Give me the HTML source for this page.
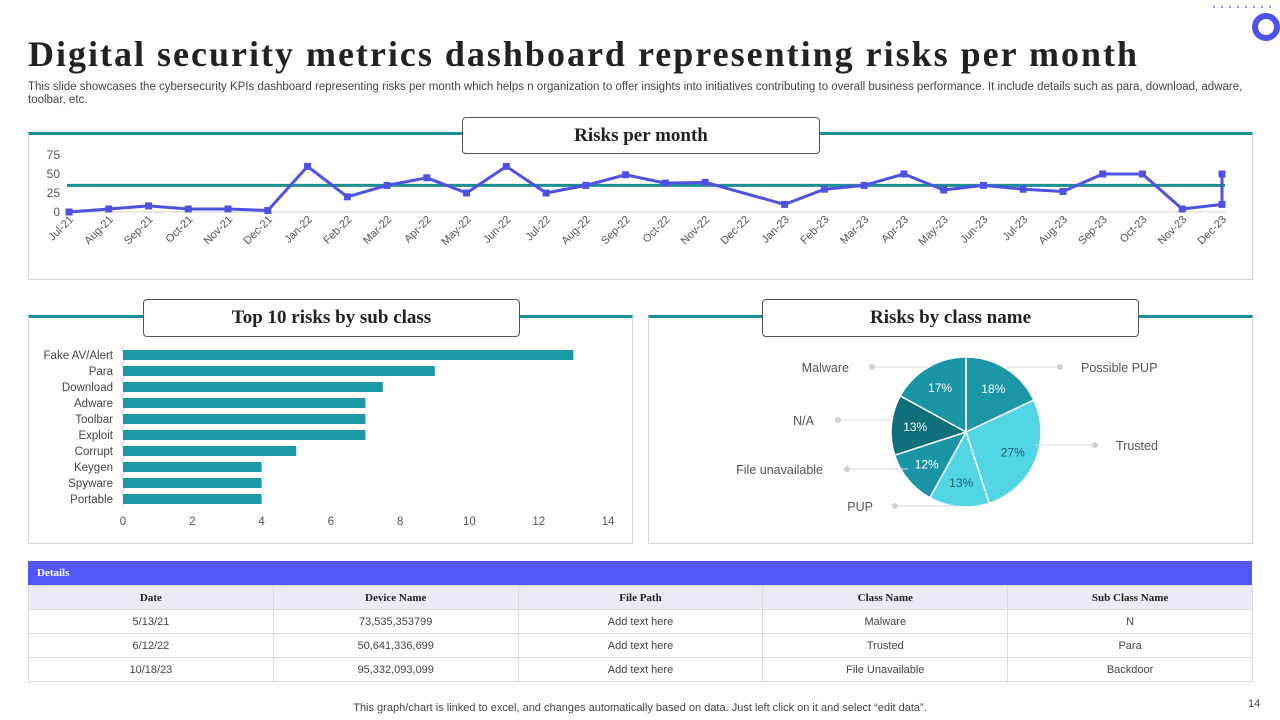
<!DOCTYPE html>
<html><head><meta charset="utf-8"><style>
body{margin:0;width:1280px;height:720px;position:relative;background:#fff;font-family:"Liberation Sans",sans-serif;overflow:hidden}
.abs{position:absolute}
.panel{position:absolute;border:1px solid #d6d6d6;border-top:3px solid #1b8f9c;box-sizing:border-box}
.tbox{position:absolute;background:#fff;border:1px solid #555;border-radius:4px;box-sizing:border-box;font-family:"Liberation Serif",serif;font-weight:bold;font-size:19px;text-align:center;color:#222}
table{border-collapse:collapse;table-layout:fixed}
td{border:1px solid #dcdcdc;text-align:center;font-size:11px;color:#444;height:23px;padding:0}
th{border:1px solid #dcdcdc;background:#ececf8;font-family:"Liberation Serif",serif;font-size:11px;height:23px;padding:0;color:#222}
svg text{font-family:"Liberation Sans",sans-serif}
</style></head><body>
<div class="abs" style="left:28px;top:33px;font-family:'Liberation Serif',serif;font-weight:bold;font-size:36px;letter-spacing:2px;color:#222;white-space:nowrap">Digital security metrics dashboard representing risks per month</div>
<div class="abs" style="left:28px;top:81px;width:1228px;font-size:11.5px;line-height:13px;color:#444">This slide showcases the cybersecurity KPIs dashboard representing risks per month which helps n organization to offer insights into initiatives contributing to overall business performance. It include details such as para, download, adware, toolbar, etc.</div>
<svg class="abs" style="left:1200px;top:0" width="80" height="45"><g fill="#7070c0"><circle cx="14" cy="7" r="1"/><circle cx="22" cy="7" r="1"/><circle cx="30" cy="7" r="1"/><circle cx="38" cy="7" r="1"/><circle cx="46" cy="7" r="1"/><circle cx="54" cy="7" r="1"/><circle cx="62" cy="7" r="1"/><circle cx="70" cy="7" r="1"/></g><circle cx="66" cy="27" r="11" fill="none" stroke="#4f52e8" stroke-width="6"/></svg>

<div class="panel" style="left:28px;top:132px;width:1225px;height:148px"></div>
<svg id="line" class="abs" style="left:0;top:0" width="1280" height="290"></svg>
<div class="tbox" style="left:462px;top:117px;width:358px;height:37px;line-height:35px">Risks per month</div>

<div class="panel" style="left:28px;top:315px;width:605px;height:229px"></div>
<div class="panel" style="left:648px;top:315px;width:605px;height:229px"></div>
<svg id="bar" class="abs" style="left:0;top:0" width="640" height="540"></svg>
<svg id="pie" class="abs" style="left:640px;top:300px" width="640" height="240"></svg>
<div class="tbox" style="left:143px;top:299px;width:377px;height:38px;line-height:36px">Top 10 risks by sub class</div>
<div class="tbox" style="left:762px;top:299px;width:377px;height:38px;line-height:36px">Risks by class name</div>

<div class="abs" style="left:28px;top:561px;width:1224px;height:24px;background:#5257f5;color:#fff;font-family:'Liberation Serif',serif;font-weight:bold;font-size:11px;line-height:24px;padding-left:9px;box-sizing:border-box">Details</div>
<table class="abs" style="left:28px;top:585px;width:1225px">
<tr><th>Date</th><th>Device Name</th><th>File Path</th><th>Class Name</th><th>Sub Class Name</th></tr>
<tr><td>5/13/21</td><td>73,535,353799</td><td>Add text here</td><td>Malware</td><td>N</td></tr>
<tr><td>6/12/22</td><td>50,641,336,699</td><td>Add text here</td><td>Trusted</td><td>Para</td></tr>
<tr><td>10/18/23</td><td>95,332,093,099</td><td>Add text here</td><td>File Unavailable</td><td>Backdoor</td></tr>
</table>
<div class="abs" style="left:0;width:1280px;top:702px;text-align:center;font-size:11px;color:#444">This graph/chart is linked to excel,  and changes automatically based on data. Just left click on it and select “edit data”.</div>
<div class="abs" style="left:1248px;top:698px;font-size:11px;color:#444">14</div>

<script>
const months=["Jul-21","Aug-21","Sep-21","Oct-21","Nov-21","Dec-21","Jan-22","Feb-22","Mar-22","Apr-22","May-22","Jun-22","Jul-22","Aug-22","Sep-22","Oct-22","Nov-22","Dec-22","Jan-23","Feb-23","Mar-23","Apr-23","May-23","Jun-23","Jul-23","Aug-23","Sep-23","Oct-23","Nov-23","Dec-23"];
const risks=[0,4,8,4,4,2,60,20,35,45,25,60,25,35,49,38,39,null,10,30,35,50,29,35,30,27,50,50,4,10];
const finalRisk=50;
const avgRisk=35;
const yTicks=[0,25,50,75];
const subClasses=["Fake AV/Alert","Para","Download","Adware","Toolbar","Exploit","Corrupt","Keygen","Spyware","Portable"];
const subCounts=[13,9,7.5,7,7,7,5,4,4,4];
const xTicks=[0,2,4,6,8,10,12,14];
const classNames=["Possible PUP","Trusted","PUP","File unavailable","N/A","Malware"];
const classPct=[18,27,13,12,13,17];
const NS="http://www.w3.org/2000/svg";
function mk(p,t,a,txt){const e=document.createElementNS(NS,t);for(const k in a)e.setAttribute(k,a[k]);if(txt!=null)e.textContent=txt;p.appendChild(e);return e;}
// line chart
const L=document.getElementById('line');
const lx=i=>69+i*(1222-69)/(months.length-1), ly=v=>212-v*(57/75);
yTicks.forEach(t=>{const e=mk(L,'text',{x:60,y:ly(t)+4,'text-anchor':'end','font-size':12,fill:'#555'},t);

});
mk(L,'line',{x1:67,x2:1225,y1:212,y2:212,stroke:'#d0d0d0'});
months.forEach((m,i)=>{const e=mk(L,'text',{transform:`translate(${lx(i)+5},${220}) rotate(-45)`,'text-anchor':'end','font-size':11,fill:'#555'},m);

});
const avg=mk(L,'line',{x1:67,x2:1225,y1:ly(avgRisk),y2:ly(avgRisk),stroke:'#1b9090','stroke-width':3});


let pts=[];risks.forEach((v,i)=>{if(v!=null)pts.push([lx(i),ly(v)]);});
pts.push([lx(months.length-1),ly(finalRisk)]);
const pl=mk(L,'polyline',{points:pts.map(p=>p.join(',')).join(' '),fill:'none',stroke:'#4f52e0','stroke-width':3,'stroke-linejoin':'round'});


pts.forEach(p=>{const r=mk(L,'rect',{x:p[0]-3.5,y:p[1]-3.5,width:7,height:7,fill:'#4f52e0'});

});
// bar chart
const B=document.getElementById('bar');
const bx=v=>123+v*(608-123)/14, by=i=>355+i*16;
xTicks.forEach(t=>{const e=mk(B,'text',{x:bx(t),y:525,'text-anchor':'middle','font-size':11.5,fill:'#555'},t);

});
mk(B,'line',{x1:123,x2:123,y1:347,y2:507,stroke:'#d0d0d0'});
subClasses.forEach((c,i)=>{const t=mk(B,'text',{x:113,y:by(i)+4,'text-anchor':'end','font-size':11.5,fill:'#444'},c);


const r=mk(B,'rect',{x:123,y:by(i)-5,width:bx(subCounts[i])-123,height:10,fill:'#1b9aa5'});

});
// pie
const P=document.getElementById('pie');
const cx=326,cy=132,R=75;
const cols=['#1b97a8','#52d6e6','#52d6e6','#1a95a6','#0f6f7b','#1a95a6'];
const tcol=['#fff','#1d5f68','#1d5f68','#fff','#fff','#fff'];
const lbl=[[441,67,'start',420],[476,145,'start',455],[233,206,'end',255],[183,169,'end',207],[174,120,'end',198],[209,67,'end',232]];
const tot=classPct.reduce((a,b)=>a+b,0);let a0=-Math.PI/2;
classPct.forEach((p,i)=>{const a1=a0+p/tot*2*Math.PI;
const d=`M${cx},${cy}L${cx+R*Math.cos(a0)},${cy+R*Math.sin(a0)}A${R},${R} 0 ${a1-a0>Math.PI?1:0} 1 ${cx+R*Math.cos(a1)},${cy+R*Math.sin(a1)}Z`;
const s=mk(P,'path',{d:d,fill:cols[i],stroke:'#fff','stroke-width':1.5});


const am=(a0+a1)/2;
const t=mk(P,'text',{x:cx+R*0.68*Math.cos(am),y:cy+R*0.68*Math.sin(am)+4,'text-anchor':'middle','font-size':12,fill:tcol[i]},p+'%');


const [lxp,lyp,anc,dx]=lbl[i];
const ex=cx+R*Math.cos(am);
mk(P,'line',{x1:ex,y1:lyp,x2:dx,y2:lyp,stroke:'#d8d8d8'});
mk(P,'circle',{cx:dx,cy:lyp,r:3,fill:'#d0d0d0'});
const lt=mk(P,'text',{x:lxp,y:lyp+5,'text-anchor':anc,'font-size':12.5,fill:'#555'},classNames[i]);


a0=a1;});
</script>
</body></html>
